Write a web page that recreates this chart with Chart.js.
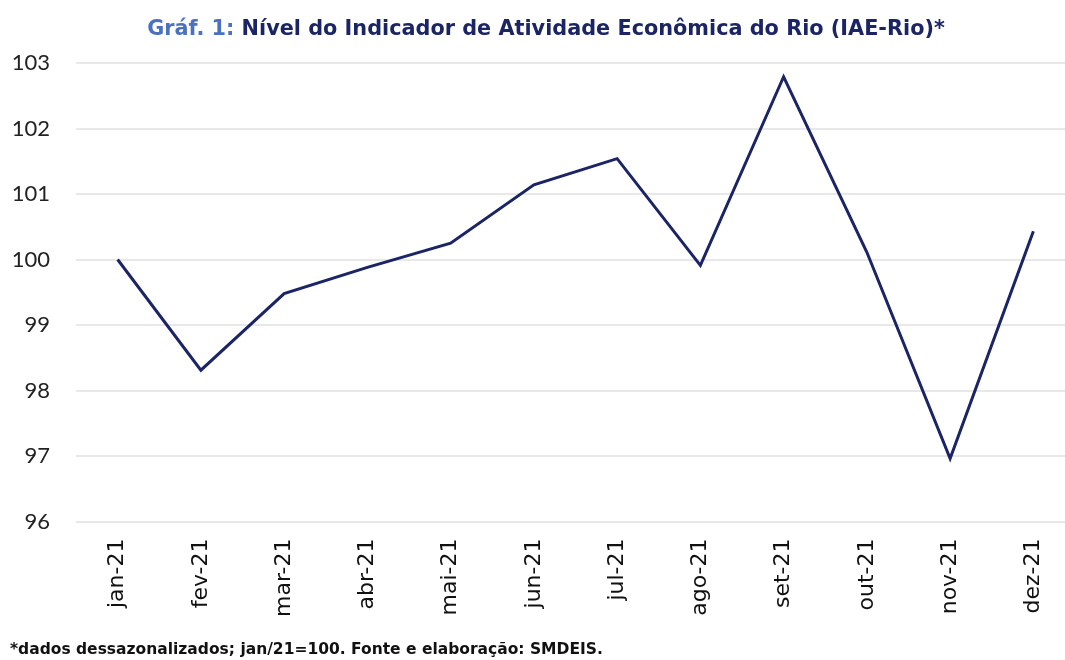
<!DOCTYPE html>
<html lang="pt">
<head>
<meta charset="utf-8">
<script src="https://cdn.jsdelivr.net/npm/chart.js@4/dist/chart.umd.min.js"></script>
<style>
  html, body { margin: 0; padding: 0; background: #fff; overflow: hidden; }
  #wrap { position: relative; width: 1080px; height: 660px; }
  #titulo {
    position: absolute; top: 16px; left: 0; width: 1092px; text-align: center;
    font: bold 20.8px "DejaVu Sans", sans-serif; color: #1b2566; white-space: nowrap;
  }
  #titulo span { color: #4a72c0; }
  #nota {
    position: absolute; top: 640px; left: 10px;
    font: bold 15.5px "DejaVu Sans", sans-serif; color: #111; white-space: nowrap;
  }
</style>
</head>
<body>
<div id="wrap">
  <canvas id="iaeChart" width="1080" height="660"></canvas>
  <div id="titulo"><span>Gráf. 1:</span> Nível do Indicador de Atividade Econômica do Rio (IAE-Rio)*</div>
  <div id="nota">*dados dessazonalizados; jan/21=100. Fonte e elaboração: SMDEIS.</div>
</div>
<script>
const meses = ['jan-21', 'fev-21', 'mar-21', 'abr-21', 'mai-21', 'jun-21',
               'jul-21', 'ago-21', 'set-21', 'out-21', 'nov-21', 'dez-21'];
const iaeRio = [100.0, 98.31, 99.48, 99.88, 100.25, 101.14,
                101.54, 99.91, 102.79, 100.11, 96.96, 100.43];
const eixoMin = 96;
const eixoMax = 103;

const ctx = document.getElementById('iaeChart').getContext('2d');
const iaeChart = new Chart(ctx, {
    type: 'line',
    data: {
        labels: meses,
        datasets: [{
            label: 'IAE-Rio',
            data: iaeRio,
            borderColor: '#1b2566',
            borderWidth: 3,
            pointRadius: 0,
            tension: 0,
            fill: false
        }]
    },
    options: {
        responsive: false,
        animation: false,
        layout: { padding: { top: 63, bottom: 34, left: 0, right: 5 } },
        plugins: {
            legend: { display: false },
            title: { display: false },
            tooltip: { enabled: false }
        },
        scales: {
            x: {
                offset: true,
                grid: { display: false },
                border: { display: false },
                ticks: {
                    minRotation: 90, maxRotation: 90,
                    color: '#111',
                    font: { family: 'DejaVu Sans', size: 22 },
                    padding: 9
                }
            },
            y: {
                min: eixoMin, max: eixoMax,
                afterFit: (s) => { s.width = 76; },
                grid: { color: '#e8e8e8', lineWidth: 2, drawTicks: false },
                border: { display: false },
                ticks: {
                    stepSize: 1,
                    color: '#222',
                    font: { family: 'Lato', size: 22 },
                    padding: 26
                }
            }
        }
    }
});
</script>
</body>
</html>
